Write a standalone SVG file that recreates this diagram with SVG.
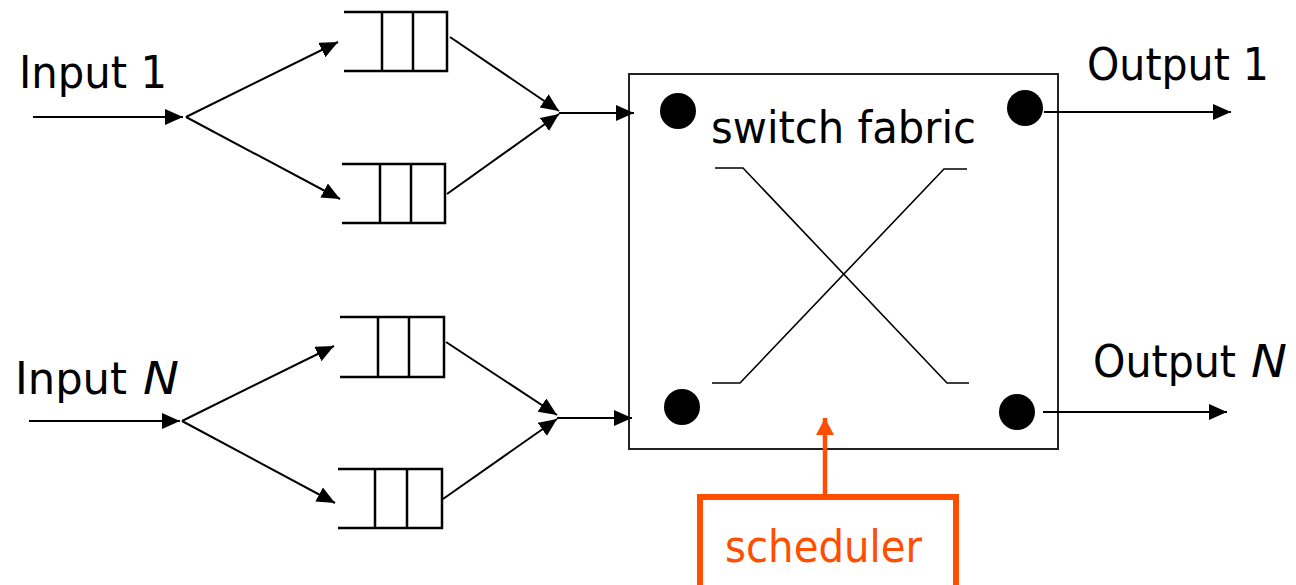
<svg xmlns="http://www.w3.org/2000/svg" width="1296" height="585" viewBox="0 0 1296 585">
<style>
.lbl{font-family:"DejaVu Sans","Liberation Sans",sans-serif;font-size:45px;fill:#000}
.it{font-style:italic}
.q{fill:none;stroke:#000;stroke-width:2.5}
.c{fill:none;stroke:#000;stroke-width:2}
.x{fill:none;stroke:#000;stroke-width:1.6}
.dot{fill:#000}
</style>
<defs>
<marker id="ah" markerUnits="userSpaceOnUse" markerWidth="20" markerHeight="18" refX="18" refY="8" orient="auto">
<path d="M0,0 L18,8 L0,16 Z" fill="#000"/>
</marker>
<marker id="ahO" markerUnits="userSpaceOnUse" markerWidth="20" markerHeight="20" refX="17" refY="9" orient="auto">
<path d="M0,0 L17,9 L0,18 Z" fill="#FF4E00"/>
</marker>
</defs>
<rect width="1296" height="585" fill="#fff"/>

<g id="input1"><text class="lbl" x="19" y="88" textLength="148" lengthAdjust="spacingAndGlyphs">Input 1</text></g>
<g id="inputN"><text class="lbl" x="15" y="394" textLength="112" lengthAdjust="spacingAndGlyphs">Input</text><text class="lbl it" x="143" y="394" textLength="36" lengthAdjust="spacingAndGlyphs">N</text></g>

<g id="queue1a"><path class="q" d="M344,12 H447 V71 H344 M382,12 V71 M413,12 V71"/></g>
<g id="queue1b"><path class="q" d="M342,164 H445 V223 H342 M380,164 V223 M411,164 V223"/></g>
<g id="queueNa"><path class="q" d="M340,317 H444 V377 H340 M378,317 V377 M409,317 V377"/></g>
<g id="queueNb"><path class="q" d="M338,469 H442 V528 H338 M375,469 V528 M407,469 V528"/></g>

<g id="fabric">
<rect x="629" y="74" width="429" height="375" fill="none" stroke="#222" stroke-width="2"/>
<circle class="dot" cx="678" cy="111" r="18"/>
<circle class="dot" cx="1025" cy="108" r="18"/>
<circle class="dot" cx="682" cy="407" r="18"/>
<circle class="dot" cx="1017" cy="412" r="18"/>
<text class="lbl" x="711" y="143" font-size="46" textLength="265" lengthAdjust="spacingAndGlyphs">switch fabric</text>
<path class="x" d="M715,168 H743 L947,383 H969"/>
<path class="x" d="M712,383 H740 L944,169 H967"/>
</g>

<g id="output1"><text class="lbl" x="1087" y="80" textLength="182" lengthAdjust="spacingAndGlyphs">Output 1</text></g>
<g id="outputN"><text class="lbl" x="1093" y="377" textLength="143" lengthAdjust="spacingAndGlyphs">Output</text><text class="lbl it" x="1251" y="377" textLength="36" lengthAdjust="spacingAndGlyphs">N</text></g>

<g id="scheduler">
<rect x="700" y="497" width="256" height="92" fill="none" stroke="#FF4E00" stroke-width="6"/>
<text x="725" y="562" font-family="DejaVu Sans, Liberation Sans, sans-serif" font-size="45" fill="#FF4E00" textLength="197" lengthAdjust="spacingAndGlyphs">scheduler</text>
</g>

<g id="connectors">
<line class="c" x1="33" y1="117" x2="183" y2="117" marker-end="url(#ah)"/>
<line class="c" x1="186" y1="117" x2="338" y2="42" marker-end="url(#ah)"/>
<line class="c" x1="186" y1="117" x2="340" y2="199" marker-end="url(#ah)"/>
<line class="c" x1="450" y1="37" x2="559" y2="111" marker-end="url(#ah)"/>
<line class="c" x1="447" y1="194" x2="559" y2="114" marker-end="url(#ah)"/>
<line class="c" x1="559" y1="113" x2="634" y2="113" marker-end="url(#ah)"/>

<line class="c" x1="29" y1="421" x2="180" y2="421" marker-end="url(#ah)"/>
<line class="c" x1="182" y1="421" x2="334" y2="346" marker-end="url(#ah)"/>
<line class="c" x1="182" y1="421" x2="335" y2="503" marker-end="url(#ah)"/>
<line class="c" x1="446" y1="342" x2="557" y2="415" marker-end="url(#ah)"/>
<line class="c" x1="443" y1="499" x2="557" y2="419" marker-end="url(#ah)"/>
<line class="c" x1="557" y1="418" x2="632" y2="418" marker-end="url(#ah)"/>

<line class="c" x1="1044" y1="112" x2="1231" y2="112" marker-end="url(#ah)"/>
<line class="c" x1="1043" y1="412" x2="1227" y2="412" marker-end="url(#ah)"/>

<line x1="825" y1="495" x2="825" y2="418" stroke="#FF4E00" stroke-width="4.5" marker-end="url(#ahO)"/>
</g>
</svg>
